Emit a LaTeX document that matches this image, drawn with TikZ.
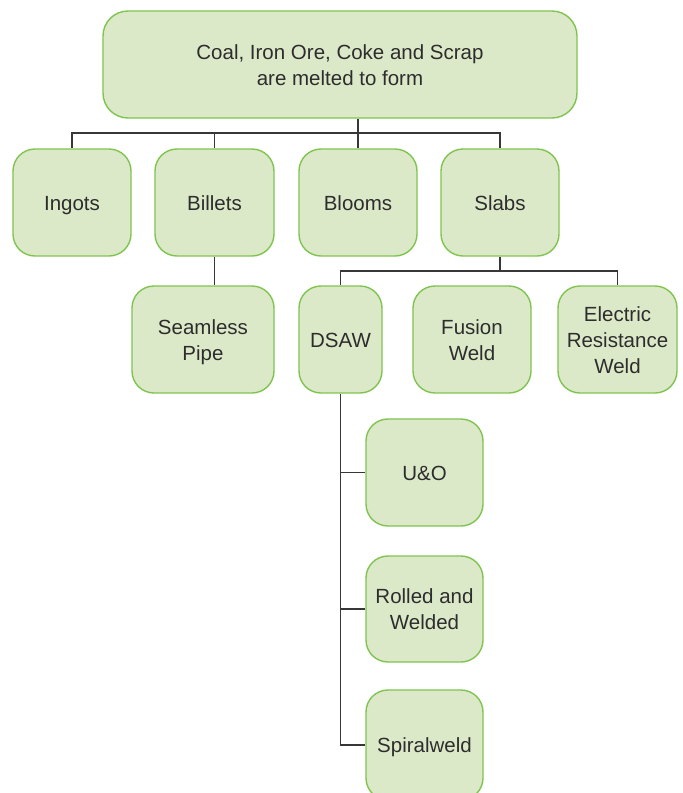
\documentclass[tikz,border=0pt]{standalone}
\usepackage{fontspec}
\setmainfont{Liberation Sans}
\definecolor{boxfill}{RGB}{220,233,200}
\definecolor{boxline}{RGB}{128,196,80}
\definecolor{txt}{RGB}{45,45,45}
\definecolor{conn}{RGB}{55,55,55}
\newcommand\boxtext[1]{\raisebox{-2.3pt}[\height][\depth]{\begin{tabular}{@{}c@{}}#1\end{tabular}}}
\begin{document}
\begin{tikzpicture}[x=1pt,y=1pt,
  gbox/.style={draw=boxline, fill=boxfill, line width=1.4pt, rounded corners=22pt,
    minimum height=107pt, text=txt, inner sep=2pt,
    font=\fontsize{20.5}{26}\selectfont},
  link/.style={draw=conn, line width=1.4pt}]
\clip (0,0) rectangle (683,-793);
\fill[white] (0,0) rectangle (683,-793);
\node[gbox, minimum width=474pt, rounded corners=25pt] (top) at (340,-64.5) {\boxtext{Coal, Iron Ore, Coke and Scrap\\are melted to form}};
\node[gbox, minimum width=118pt] (ingots) at (72,-202.5) {\boxtext{Ingots}};
\node[gbox, minimum width=119pt] (billets) at (214.5,-202.5) {\boxtext{Billets}};
\node[gbox, minimum width=118pt] (blooms) at (358,-202.5) {\boxtext{Blooms}};
\node[gbox, minimum width=118pt] (slabs) at (500,-202.5) {\boxtext{Slabs}};
\node[gbox, minimum width=142pt] (seamless) at (203,-339.5) {\boxtext{Seamless\\Pipe}};
\node[gbox, minimum width=83pt] (dsaw) at (340.5,-339.5) {\boxtext{DSAW}};
\node[gbox, minimum width=118pt] (fusion) at (472,-339.5) {\boxtext{Fusion\\Weld}};
\node[gbox, minimum width=119pt] (erw) at (617.5,-339.5) {\boxtext{Electric\\Resistance\\Weld}};
\node[gbox, minimum width=117pt] (uo) at (424.5,-472.5) {\boxtext{U\&O}};
\node[gbox, minimum width=117pt, minimum height=106pt] (rolled) at (424.5,-609) {\boxtext{Rolled and\\Welded}};
\node[gbox, minimum width=117pt, minimum height=110pt] (spiral) at (424.5,-745) {\boxtext{Spiralweld}};
\coordinate (bus1) at (0,-133);
\coordinate (bus2) at (0,-271);
% level 1
\draw[link] (top.south -| blooms.north) -- (blooms.north);
\draw[link] (ingots.north) |- (bus1 -| slabs.north) -- (slabs.north);
\draw[link] (billets.north) -- (billets.north |- bus1);
% billets
\draw[link] (billets.south) -- (billets.south |- seamless.north);
% slabs
\draw[link] (slabs.south) -- (slabs.south |- bus2);
\draw[link] (dsaw.north) |- (bus2 -| erw.north) -- (erw.north);
% dsaw
\draw[link] (dsaw.south) -- (dsaw.south |- spiral.west) -- (spiral.west);
\draw[link] (dsaw.south |- uo.west) -- (uo.west);
\draw[link] (dsaw.south |- rolled.west) -- (rolled.west);
\end{tikzpicture}
\end{document}
